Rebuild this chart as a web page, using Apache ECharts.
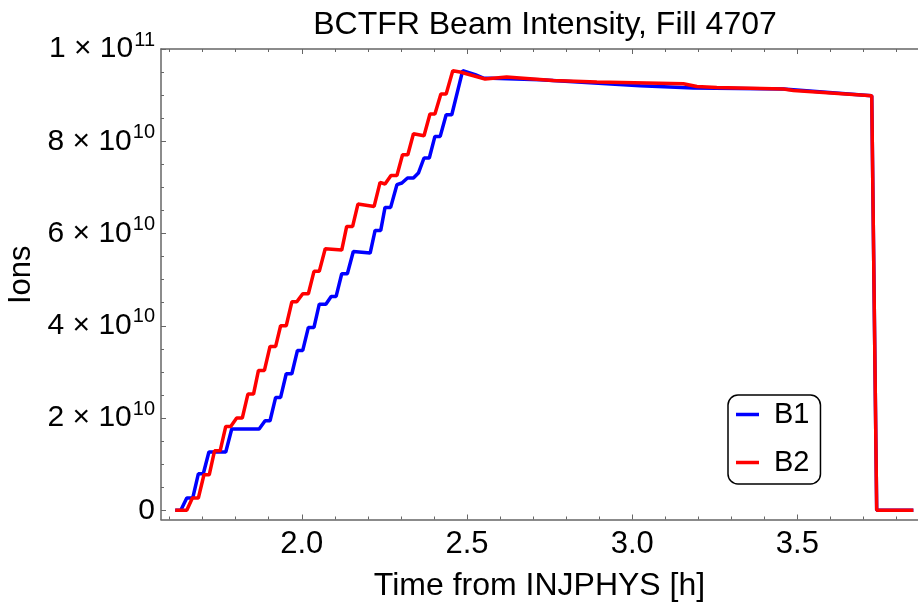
<!DOCTYPE html>
<html>
<head>
<meta charset="utf-8">
<script src="https://cdn.jsdelivr.net/npm/echarts@6/dist/echarts.min.js"></script>
<style>html,body{margin:0;padding:0;background:#fff}#c{width:918px;height:608px}</style>
</head>
<body>
<div id="c"></div>
<script>
// Time from INJPHYS [h]
const b1Time = [1.617, 1.634, 1.652, 1.670, 1.687, 1.702, 1.719, 1.770, 1.788, 1.871, 1.889, 1.904, 1.921, 1.936, 1.953, 1.970, 1.987, 2.003, 2.020, 2.037, 2.053, 2.073, 2.089, 2.104, 2.121, 2.138, 2.156, 2.207, 2.222, 2.239, 2.252, 2.269, 2.288, 2.303, 2.320, 2.338, 2.353, 2.370, 2.386, 2.403, 2.419, 2.437, 2.454, 2.487, 2.525, 2.550, 2.721, 3.024, 3.185, 3.458, 3.725, 3.740, 3.851];
// Ions, in units of 1e9
const b1Ions = [0, 0, 2.65, 2.65, 7.91, 7.91, 12.62, 12.62, 17.61, 17.61, 19.41, 19.41, 24.46, 24.46, 29.6, 29.6, 34.65, 34.65, 39.64, 39.64, 44.67, 44.67, 46.36, 46.36, 51.28, 51.28, 56.11, 55.77, 60.67, 60.67, 65.66, 65.66, 70.58, 70.95, 72.03, 72.03, 73.11, 76.37, 76.37, 81.05, 81.05, 85.75, 85.75, 95.30, 94.43, 93.71, 93.34, 92.04, 91.54, 91.33, 89.88, 0, 0];
const b2Time = [1.617, 1.652, 1.669, 1.687, 1.704, 1.720, 1.736, 1.753, 1.770, 1.785, 1.803, 1.820, 1.837, 1.854, 1.869, 1.887, 1.904, 1.921, 1.936, 1.953, 1.970, 1.985, 2.003, 2.020, 2.037, 2.053, 2.071, 2.121, 2.136, 2.154, 2.170, 2.219, 2.237, 2.252, 2.270, 2.288, 2.305, 2.321, 2.338, 2.370, 2.388, 2.403, 2.421, 2.437, 2.457, 2.479, 2.555, 2.620, 2.761, 2.893, 3.044, 3.155, 3.196, 3.256, 3.458, 3.488, 3.725, 3.740, 3.851];
const b2Ions = [0, 0, 2.65, 2.65, 7.70, 7.70, 12.90, 12.90, 18.17, 18.17, 19.99, 19.99, 25.20, 25.20, 30.31, 30.31, 35.52, 35.52, 40.0, 40.0, 45.2, 45.2, 46.94, 46.94, 51.8, 51.8, 56.7, 56.4, 61.54, 61.54, 66.39, 65.87, 71.08, 70.73, 72.59, 72.59, 77.08, 77.08, 81.64, 81.2, 85.91, 85.91, 90.24, 90.24, 95.30, 95.01, 93.5, 93.93, 93.19, 92.84, 92.63, 92.48, 91.89, 91.67, 91.33, 91.02, 89.88, 0, 0];

const seriesNames = ['B1', 'B2'];
const xMajorTicks = [2.0, 2.5, 3.0, 3.5];
const xMajorLabels = ['2.0', '2.5', '3.0', '3.5'];
const xMinorTicks = [1.6, 1.7, 1.8, 1.9, 2.1, 2.2, 2.3, 2.4, 2.6, 2.7, 2.8, 2.9, 3.1, 3.2, 3.3, 3.4, 3.6, 3.7, 3.8];
const yMajorTicks = [0, 2e10, 4e10, 6e10, 8e10, 1e11];
const yMajorLabels = [['0', ''], ['2 × 10', '10'], ['4 × 10', '10'], ['6 × 10', '10'], ['8 × 10', '10'], ['1 × 10', '11']];
const yMinorTicks = [5e9, 1e10, 1.5e10, 2.5e10, 3e10, 3.5e10, 4.5e10, 5e10, 5.5e10, 6.5e10, 7e10, 7.5e10, 8.5e10, 9e10, 9.5e10];

const X_MIN = 1.574, X_MAX = 3.865, Y_MIN = -2e9, Y_MAX = 1e11;
const FONT = 'Liberation Sans';
const axisColor = '#666';

function pairs(t, v) { return t.map((x, i) => [x, v[i] * 1e9]); }

function xAx(pos, ticks, len, showLine, labels) {
  return {
    type: 'value', position: pos, min: X_MIN, max: X_MAX,
    axisLine: { show: showLine, onZero: false, lineStyle: { color: axisColor, width: 1.5 } },
    axisTick: { show: true, inside: true, length: len, customValues: ticks, lineStyle: { color: axisColor, width: 1 } },
    axisLabel: labels ? {
      show: true, customValues: ticks, margin: 9, color: '#000', fontSize: 31, fontFamily: FONT,
      formatter: v => xMajorLabels[xMajorTicks.findIndex(t => Math.abs(t - v) < 1e-9)]
    } : { show: false },
    splitLine: { show: false }
  };
}
function yAx(ticks, len, showLine, labels) {
  return {
    type: 'value', position: 'left', min: Y_MIN, max: Y_MAX,
    axisLine: { show: showLine, onZero: false, lineStyle: { color: axisColor, width: 1.5 } },
    axisTick: { show: true, inside: true, length: len, customValues: ticks, lineStyle: { color: axisColor, width: 1 } },
    axisLabel: labels ? {
      show: true, customValues: ticks, margin: 6, fontFamily: FONT,
      formatter: v => {
        const i = yMajorTicks.findIndex(t => Math.abs(t - v) < 1);
        const l = yMajorLabels[i];
        return l[1] ? '{b|' + l[0] + '}{s|' + l[1] + '}' : '{b|' + l[0] + '}';
      },
      rich: {
        b: { fontSize: 30, lineHeight: 30, color: '#000', fontFamily: FONT, verticalAlign: 'bottom' },
        s: { fontSize: 20, lineHeight: 20, color: '#000', fontFamily: FONT, verticalAlign: 'bottom', padding: [0, 0, 14, 1] }
      }
    } : { show: false },
    splitLine: { show: false }
  };
}

const chart = echarts.init(document.getElementById('c'), null, { renderer: 'canvas' });
const yMain = yAx(yMajorTicks, 5, true, true);
yMain.name = 'Ions';
yMain.nameLocation = 'middle';
yMain.nameGap = 122;
yMain.nameTextStyle = { fontSize: 31, color: '#000', fontFamily: FONT, padding: [0, 0, 0, 19] };
const xMain = xAx('bottom', xMajorTicks, 5, true, true);
xMain.name = 'Time from INJPHYS [h]';
xMain.nameLocation = 'middle';
xMain.nameGap = 51;
xMain.nameTextStyle = { fontSize: 32, color: '#000', fontFamily: FONT };

chart.setOption({
  animation: false,
  backgroundColor: '#fff',
  textStyle: { fontFamily: FONT },
  title: {
    text: 'BCTFR Beam Intensity, Fill 4707', left: 540, textAlign: 'center', top: 4,
    textStyle: { fontSize: 32, fontWeight: 'normal', color: '#000', fontFamily: FONT }
  },
  grid: { left: 161, top: 49, right: 0, bottom: 88.5, outerBoundsMode: 'none', containLabel: false },
  xAxis: [
    xMain,
    xAx('bottom', xMinorTicks, 3, false, false),
    xAx('top', xMajorTicks, 5, true, false),
    xAx('top', xMinorTicks, 3, false, false)
  ],
  yAxis: [
    yMain,
    yAx(yMinorTicks, 3, false, false)
  ],
  legend: {
    orient: 'vertical', left: 728, top: 395,
    data: seriesNames,
    icon: 'rect', itemWidth: 23, itemHeight: 3.5, itemGap: 19,
    padding: [5, 11, 7, 8],
    borderColor: '#000', borderWidth: 1.5, borderRadius: 10,
    textStyle: { fontSize: 29, color: '#000', fontFamily: FONT, padding: [0, 0, 0, 10] }
  },
  series: [
    { name: seriesNames[0], type: 'line', data: pairs(b1Time, b1Ions), showSymbol: false, symbol: 'none',
      lineStyle: { color: '#0000ff', width: 3.5 }, itemStyle: { color: '#0000ff' } },
    { name: seriesNames[1], type: 'line', data: pairs(b2Time, b2Ions), showSymbol: false, symbol: 'none',
      lineStyle: { color: '#ff0000', width: 3.5 }, itemStyle: { color: '#ff0000' } }
  ]
});
</script>
</body>
</html>
